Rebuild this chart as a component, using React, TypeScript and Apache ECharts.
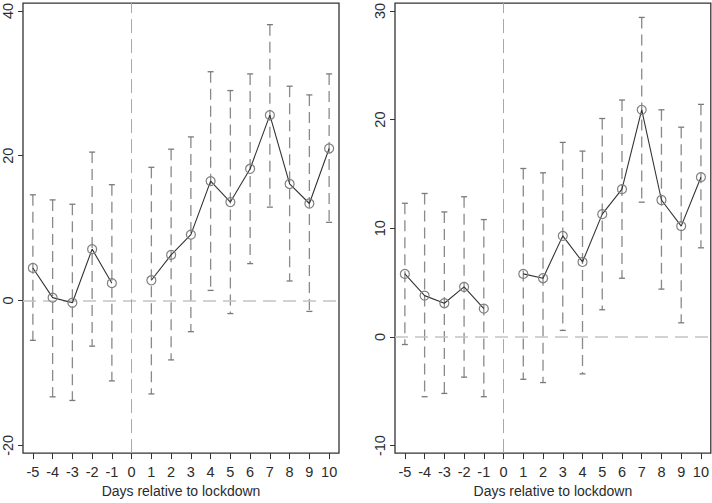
import React, { useEffect, useRef } from "react";
import * as echarts from "echarts";

const days = [-5, -4, -3, -2, -1, 1, 2, 3, 4, 5, 6, 7, 8, 9, 10];
const xTicks = [-5, -4, -3, -2, -1, 0, 1, 2, 3, 4, 5, 6, 7, 8, 9, 10];

const coefA = [4.5, 0.4, -0.3, 7.1, 2.4, 2.8, 6.3, 9.1, 16.5, 13.6, 18.2, 25.6, 16.1, 13.4, 21.0];
const upperA = [14.6, 13.9, 13.3, 20.5, 16.0, 18.4, 20.9, 22.6, 31.6, 29.0, 31.3, 38.1, 29.6, 28.4, 31.3];
const lowerA = [-5.5, -13.3, -13.8, -6.3, -11.1, -12.9, -8.2, -4.3, 1.4, -1.8, 5.1, 12.9, 2.7, -1.5, 10.8];
const yTicksA = [-20, 0, 20, 40];

const coefB = [5.8, 3.8, 3.1, 4.6, 2.6, 5.8, 5.4, 9.3, 6.9, 11.3, 13.6, 20.9, 12.6, 10.2, 14.7];
const upperB = [12.3, 13.2, 11.5, 12.9, 10.8, 15.5, 15.1, 17.9, 17.1, 20.1, 21.8, 29.4, 20.9, 19.3, 21.4];
const lowerB = [-0.7, -5.5, -5.2, -3.7, -5.5, -3.9, -4.2, 0.6, -3.4, 2.5, 5.4, 12.4, 4.4, 1.3, 8.2];
const yTicksB = [-10, 0, 10, 20, 30];

const xName = "Days relative to lockdown";
const FONT = "Liberation Sans, Arial, Helvetica, sans-serif";
const TXT = "#2b2b2b";

function makeX(gridIndex: number) {
  return {
    type: "value",
    gridIndex,
    min: -5.5,
    max: 10.5,
    name: xName,
    nameLocation: "middle",
    nameGap: 24,
    nameTextStyle: { fontFamily: FONT, fontSize: 14, color: TXT },
    axisLine: { show: false, onZero: false },
    axisTick: { show: true, length: 6, customValues: xTicks, lineStyle: { color: "#333", width: 1 } },
    axisLabel: { customValues: xTicks, fontFamily: FONT, fontSize: 14.5, color: TXT, margin: 11 },
    splitLine: { show: false },
  };
}

function makeY(gridIndex: number, min: number, max: number, ticks: number[]) {
  return {
    type: "value",
    gridIndex,
    min,
    max,
    axisLine: { show: false, onZero: false },
    axisTick: { show: true, length: 5, customValues: ticks, lineStyle: { color: "#333", width: 1 } },
    axisLabel: { customValues: ticks, rotate: 90, fontFamily: FONT, fontSize: 14.5, color: TXT, margin: 8 },
    splitLine: { show: false },
  };
}

function ciSeries(idx: number, lower: number[], upper: number[]) {
  return {
    type: "custom",
    xAxisIndex: idx,
    yAxisIndex: idx,
    z: 3,
    data: days.map((d, i) => [d, lower[i], upper[i]]),
    encode: { x: 0, y: [1, 2] },
    renderItem: (params: any, api: any) => {
      const x = api.value(0);
      const lo = api.coord([x, api.value(1)]);
      const hi = api.coord([x, api.value(2)]);
      const cap = 3;
      return {
        type: "group",
        children: [
          {
            type: "line",
            shape: { x1: hi[0], y1: hi[1], x2: lo[0], y2: lo[1] },
            style: { stroke: "#8a8a8a", lineWidth: 1.3, lineDash: [11, 6] },
          },
          {
            type: "line",
            shape: { x1: lo[0] - cap, y1: lo[1], x2: lo[0] + cap, y2: lo[1] },
            style: { stroke: "#7a7a7a", lineWidth: 1.3 },
          },
          {
            type: "line",
            shape: { x1: hi[0] - cap, y1: hi[1], x2: hi[0] + cap, y2: hi[1] },
            style: { stroke: "#7a7a7a", lineWidth: 1.3 },
          },
        ],
      };
    },
  };
}

function lineSeries(idx: number, coef: number[], pre: boolean, withRef: boolean) {
  const data = days
    .map((d, i) => [d, coef[i]])
    .filter((p) => (pre ? p[0] < 0 : p[0] > 0));
  const s: any = {
    type: "line",
    xAxisIndex: idx,
    yAxisIndex: idx,
    z: 5,
    data,
    symbol: "circle",
    symbolSize: 9,
    lineStyle: { color: "#333", width: 1.1 },
    itemStyle: { color: "rgba(255,255,255,0)", borderColor: "#808080", borderWidth: 1.2 },
    emphasis: { disabled: true },
  };
  if (withRef) {
    s.markLine = {
      silent: true,
      symbol: "none",
      label: { show: false },
      data: [
        { yAxis: 0, lineStyle: { color: "#c4c4c4", width: 1.6, type: [13, 7] } },
        { xAxis: 0, lineStyle: { color: "#a8a8a8", width: 1, type: [14, 6] } },
      ],
    };
  }
  return s;
}

export default function App() {
  const ref = useRef<HTMLDivElement>(null);
  useEffect(() => {
    if (!ref.current) return;
    const chart = echarts.init(ref.current, undefined, { renderer: "svg" });
    chart.setOption({
      animation: false,
      backgroundColor: "#fff",
      grid: [
        { left: 22, top: 1, width: 317, height: 461, show: true, borderColor: "#333", borderWidth: 1.3, backgroundColor: "#fff" },
        { left: 395, top: 1, width: 316, height: 461, show: true, borderColor: "#333", borderWidth: 1.3, backgroundColor: "#fff" },
      ],
      xAxis: [makeX(0), makeX(1)],
      yAxis: [makeY(0, -21.07, 41.08, yTicksA), makeY(1, -10.69, 30.72, yTicksB)],
      series: [
        ciSeries(0, lowerA, upperA),
        lineSeries(0, coefA, true, true),
        lineSeries(0, coefA, false, false),
        ciSeries(1, lowerB, upperB),
        lineSeries(1, coefB, true, true),
        lineSeries(1, coefB, false, false),
      ],
    });
    return () => chart.dispose();
  }, []);
  return (
    <div
      ref={ref}
      style={{ position: "fixed", left: 0, top: 0, width: 712, height: 503 }}
    />
  );
}
